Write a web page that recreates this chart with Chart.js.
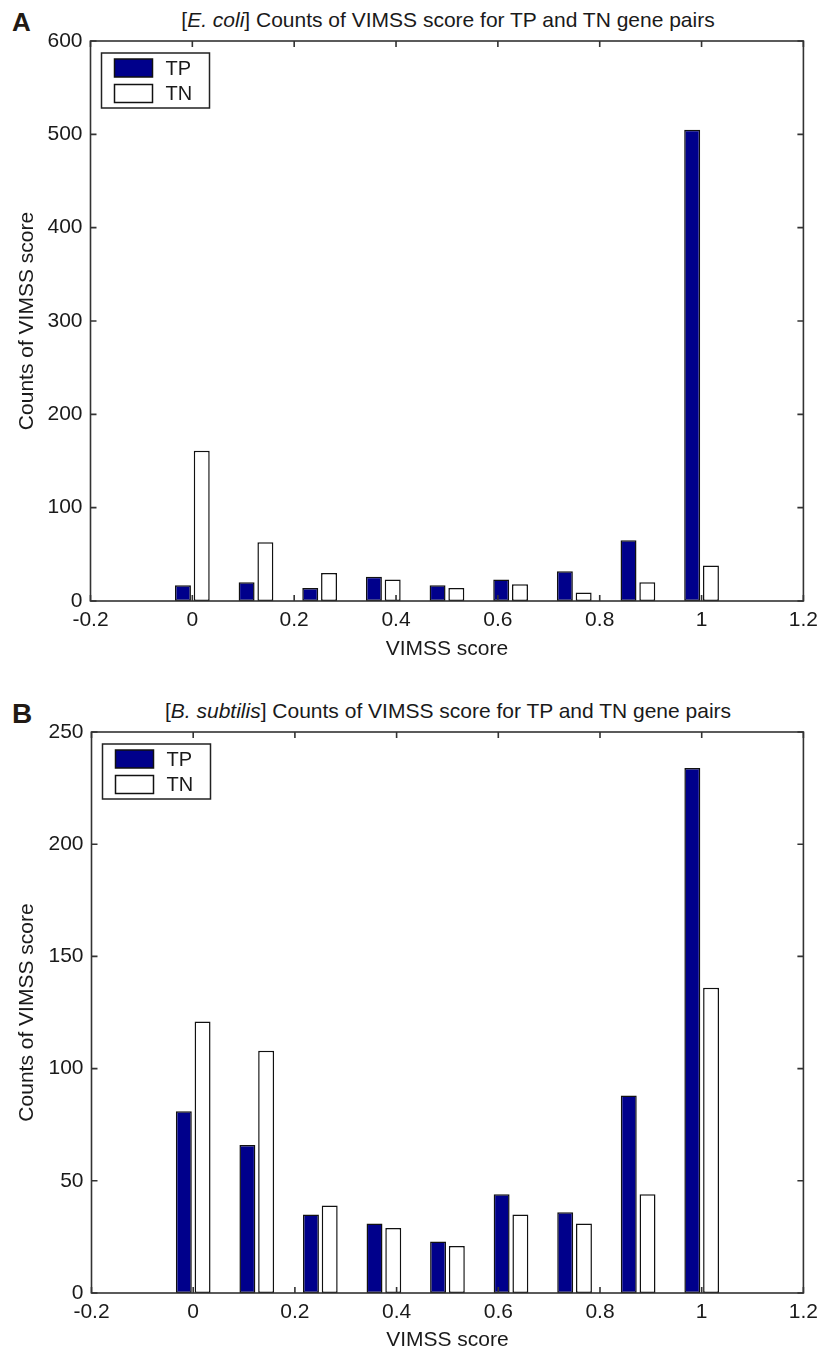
<!DOCTYPE html>
<html>
<head>
<meta charset="utf-8">
<script src="https://cdn.jsdelivr.net/npm/chart.js@4.4.1/dist/chart.umd.min.js"></script>
<style>
  body { margin: 0; background: #fff; }
  #wrap { position: relative; width: 825px; height: 1353px; font-family: "Liberation Sans", Arial, sans-serif; color: #1a1a1a; }
  .panel { position: absolute; font-weight: bold; color: #221a14; }
  .title { position: absolute; left: 90px; width: 716px; text-align: center; font-size: 21px; line-height: 21px; white-space: nowrap; }
  .box { position: absolute; left: 0; width: 825px; }
</style>
</head>
<body>
<div id="wrap">
  <div class="panel" style="left:12px;top:9px;font-size:26px;line-height:26px;">A</div>
  <div class="title" style="top:9px;">[<i>E. coli</i>] Counts of VIMSS score for TP and TN gene pairs</div>
  <div class="box" style="top:0;height:670px;"><canvas id="chartA" width="825" height="670"></canvas></div>

  <div class="panel" style="left:12px;top:700px;font-size:28px;line-height:28px;">B</div>
  <div class="title" style="top:700px;">[<i>B. subtilis</i>] Counts of VIMSS score for TP and TN gene pairs</div>
  <div class="box" style="top:670px;height:683px;"><canvas id="chartB" width="825" height="683"></canvas></div>
</div>
<script>
// VIMSS score bin centres
const binCenters = [0, 0.125, 0.25, 0.375, 0.5, 0.625, 0.75, 0.875, 1];

// panel A: E. coli
const ecoliTP = [17, 20, 14, 26, 17, 23, 32, 65, 505];
const ecoliTN = [161, 63, 30, 23, 14, 18, 9, 20, 38];

// panel B: B. subtilis
const bsubTP = [81, 66, 35, 31, 23, 44, 36, 88, 234];
const bsubTN = [121, 108, 39, 29, 21, 35, 31, 44, 136];

const xTicks = [-0.2, 0, 0.2, 0.4, 0.6, 0.8, 1, 1.2];
const xTickLabels = ["-0.2", "0", "0.2", "0.4", "0.6", "0.8", "1", "1.2"];
const yTicksA = [0, 100, 200, 300, 400, 500, 600];
const yTicksB = [0, 50, 100, 150, 200, 250];

const FONT = "'Liberation Sans', Arial, sans-serif";
const TEXT = "#1a1a1a";
const AXIS = "#333";

// matlab style box with inward ticks plus the little legend box
const boxAxes = {
  id: "boxAxes",
  afterDatasetsDraw(chart) {
    const { ctx, chartArea: a, scales: { x, y } } = chart;
    ctx.save();
    ctx.strokeStyle = AXIS;
    ctx.lineWidth = 1.6;
    ctx.beginPath();
    x.ticks.forEach(t => {
      const px = x.getPixelForValue(t.value);
      ctx.moveTo(px, a.bottom); ctx.lineTo(px, a.bottom - 6);
      ctx.moveTo(px, a.top); ctx.lineTo(px, a.top + 6);
    });
    y.ticks.forEach(t => {
      const py = y.getPixelForValue(t.value);
      ctx.moveTo(a.left, py); ctx.lineTo(a.left + 6, py);
      ctx.moveTo(a.right, py); ctx.lineTo(a.right - 6, py);
    });
    ctx.stroke();
    ctx.strokeRect(a.left, a.top, a.right - a.left, a.bottom - a.top);

    // legend
    const bx = a.left + 11, by = a.top + 12;
    ctx.fillStyle = "#fff";
    ctx.fillRect(bx, by, 108, 55);
    ctx.strokeStyle = "#222";
    ctx.lineWidth = 1.5;
    ctx.strokeRect(bx, by, 108, 55);
    ctx.font = "20px " + FONT;
    ctx.textBaseline = "middle";
    chart.data.datasets.forEach((ds, i) => {
      const ry = by + 6 + i * 25.5;
      ctx.fillStyle = ds.backgroundColor;
      ctx.fillRect(bx + 13, ry, 38, 18);
      ctx.strokeStyle = "#111";
      ctx.strokeRect(bx + 13, ry, 38, 18);
      ctx.fillStyle = TEXT;
      ctx.fillText(ds.label, bx + 64, ry + 10);
    });
    ctx.restore();
  }
};

function makeChart(id, tp, tn, yMax, yTicks, pad, axisW, axisH, xTitlePad) {
  return new Chart(document.getElementById(id).getContext("2d"), {
    type: "bar",
    data: {
      datasets: [{
        label: "TP",
        data: binCenters.map((x, i) => ({ x, y: tp[i] })),
        backgroundColor: "#00008b",
        borderColor: "#111",
        borderWidth: 1.5,
        borderSkipped: false
      }, {
        label: "TN",
        data: binCenters.map((x, i) => ({ x, y: tn[i] })),
        backgroundColor: "#ffffff",
        borderColor: "#111",
        borderWidth: 1.5,
        borderSkipped: false
      }]
    },
    options: {
      responsive: false,
      animation: false,
      devicePixelRatio: 1,
      categoryPercentage: 0.59,
      barPercentage: 0.85,
      layout: { padding: pad },
      plugins: { legend: { display: false }, tooltip: { enabled: false } },
      scales: {
        x: {
          type: "linear",
          min: -0.2,
          max: 1.2,
          offset: false,
          grid: { display: false, drawTicks: false },
          border: { display: false },
          afterBuildTicks: s => { s.ticks = xTicks.map(v => ({ value: v })); },
          afterFit: s => { s.height = axisH; },
          ticks: {
            padding: 7,
            color: TEXT,
            font: { family: FONT, size: 21 },
            maxRotation: 0,
            callback: (v, i) => xTickLabels[i]
          },
          title: {
            display: true,
            text: "VIMSS score",
            color: TEXT,
            font: { family: FONT, size: 21 },
            padding: { top: 0, bottom: xTitlePad }
          }
        },
        y: {
          min: 0,
          max: yMax,
          grid: { display: false, drawTicks: false },
          border: { display: false },
          afterBuildTicks: s => { s.ticks = yTicks.map(v => ({ value: v })); },
          afterFit: s => { s.width = axisW; },
          ticks: {
            padding: 8,
            color: TEXT,
            font: { family: FONT, size: 21 },
            callback: v => String(v)
          },
          title: {
            display: true,
            text: "Counts of VIMSS score",
            color: TEXT,
            font: { family: FONT, size: 21 },
            padding: { top: 15, bottom: 0 }
          }
        }
      }
    },
    plugins: [boxAxes]
  });
}

makeChart("chartA", ecoliTP, ecoliTN, 600, yTicksA, { top: 41, right: 19, bottom: 0, left: 0 }, 90.5, 69, 8);
makeChart("chartB", bsubTP, bsubTN, 250, yTicksB, { top: 62, right: 18, bottom: 0, left: 0 }, 91.5, 60, 0);
</script>
</body>
</html>
